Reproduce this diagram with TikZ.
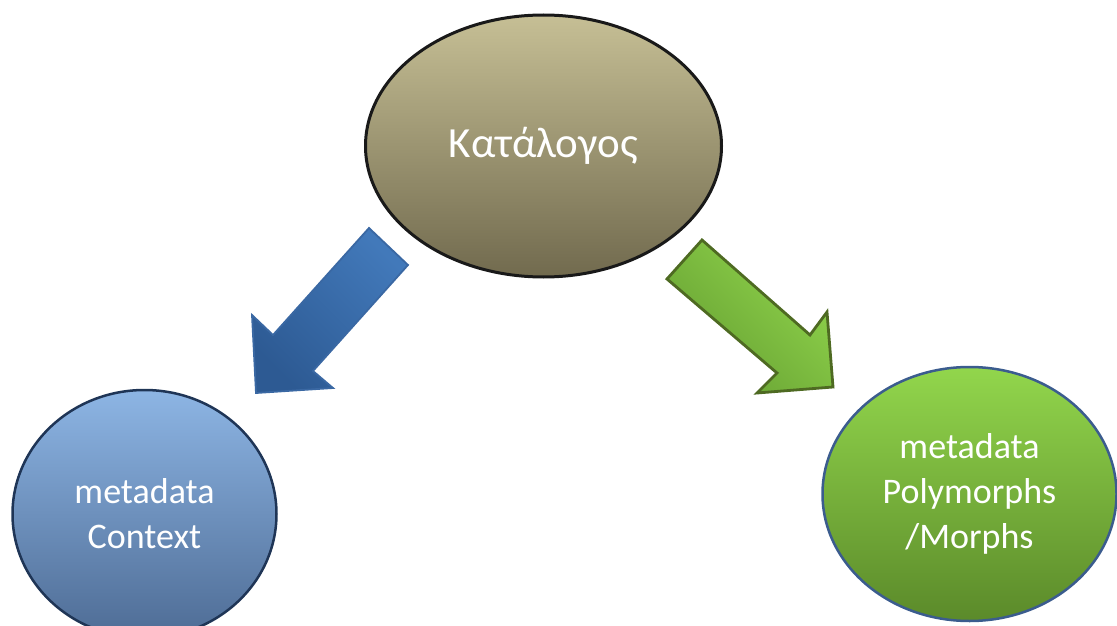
\documentclass[tikz,border=0pt]{standalone}
\usepackage{fontspec}
\setmainfont{Carlito}
\usetikzlibrary{shapes.geometric}
\definecolor{catTop}{HTML}{C6BF95}
\definecolor{catBot}{HTML}{716A4E}
\definecolor{ctxTop}{HTML}{8DB5E4}
\definecolor{ctxBot}{HTML}{4E6C95}
\definecolor{ctxLine}{HTML}{1F3556}
\definecolor{polTop}{HTML}{92D64C}
\definecolor{polBot}{HTML}{5B8A2A}
\definecolor{polLine}{HTML}{3B5C8E}
\definecolor{blueArrA}{HTML}{2D5A93}
\definecolor{blueArrB}{HTML}{4279BA}
\definecolor{blueArrLine}{HTML}{3A68A3}
\definecolor{greenArrA}{HTML}{66A032}
\definecolor{greenArrB}{HTML}{90D44C}
\definecolor{greenArrLine}{HTML}{4E6A22}
\tikzset{
  blob/.style={ellipse, inner sep=0pt, text=white, align=center},
  bigarrow/.style={line join=miter},
}
\begin{document}
\begin{tikzpicture}[x=1pt,y=-1pt]
\useasboundingbox (0,0) rectangle (1117,626);
% central catalogue
\node[blob, draw=black!90, line width=3pt, top color=catTop, bottom color=catBot,
      minimum width=356pt, minimum height=262pt,
      font=\fontsize{43}{52}\selectfont] (cat) at (543.5,146) {Κατάλογος};
% left circle
\node[blob, draw=ctxLine, line width=2.5pt, top color=ctxTop, bottom color=ctxBot,
      minimum width=264pt, minimum height=248pt,
      font=\fontsize{36}{45}\selectfont] (ctx) at (144.5,514) {metadata\\Context};
% right circle
\node[blob, draw=polLine, line width=2.5pt, top color=polTop, bottom color=polBot,
      minimum width=294pt, minimum height=254pt,
      font=\fontsize{36}{45}\selectfont] (pol) at (969.5,494) {metadata\\Polymorphs\\/Morphs};
% block arrow towards the left circle
\draw[bigarrow, line width=1.8pt, draw=blueArrLine, left color=blueArrA, right color=blueArrB, shading angle=135]
  (369,228) -- (408,265) -- (313,371) -- (333,388) -- (256,393) -- (252,315) -- (273,335) -- cycle;
% block arrow towards the right circle
\draw[bigarrow, line width=2.8pt, draw=greenArrLine, left color=greenArrA, right color=greenArrB, shading angle=135]
  (702,240) -- (667,279) -- (777,373) -- (757,393) -- (833,387) -- (827,312) -- (810,335) -- cycle;
\end{tikzpicture}
\end{document}
